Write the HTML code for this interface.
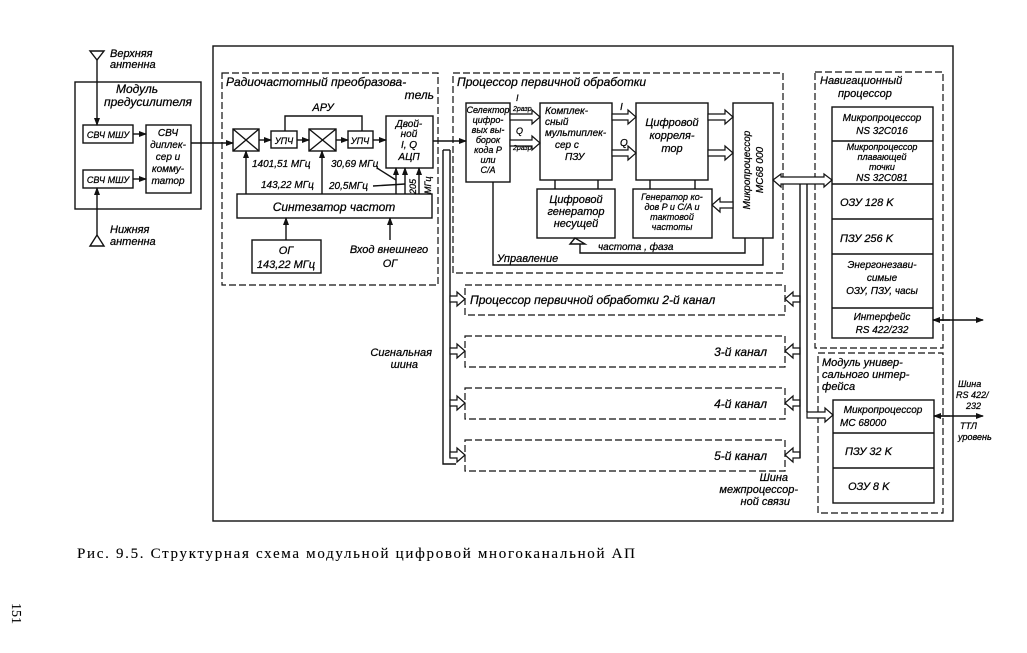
<!DOCTYPE html>
<html><head><meta charset="utf-8">
<style>
html,body{margin:0;padding:0;background:#fff;}
svg{display:block;}
text{font-family:"Liberation Sans","DejaVu Sans",sans-serif;font-style:italic;fill:#000;stroke:#000;stroke-width:0.25;}
.c{text-anchor:middle;}
</style></head><body>
<svg width="1027" height="653" viewBox="0 0 1027 653" xmlns="http://www.w3.org/2000/svg">
<defs>
<marker id="a" markerWidth="8" markerHeight="6" refX="7" refY="3" orient="auto" markerUnits="userSpaceOnUse"><path d="M0,0 L8,3 L0,6 z" fill="#111"/></marker>
</defs>
<g fill="none" stroke="#111" stroke-width="1.4">
<rect x="213" y="46" width="740" height="475"/>
<rect x="75" y="82" width="126" height="127"/>
<rect x="83" y="125" width="50" height="18"/>
<rect x="83" y="170" width="50" height="18"/>
<rect x="146" y="125" width="45" height="68"/>
<line x1="133" y1="134" x2="146" y2="134" marker-end="url(#a)"/>
<line x1="133" y1="179" x2="146" y2="179" marker-end="url(#a)"/>
<path d="M90,51 L104,51 L97,60 z"/>
<line x1="97" y1="60" x2="97" y2="125" marker-end="url(#a)"/>
<path d="M90,246 L104,246 L97,235 z"/>
<line x1="97" y1="235" x2="97" y2="188" marker-end="url(#a)"/>
<line x1="191" y1="143" x2="233" y2="143" marker-end="url(#a)"/>
</g>
<g stroke="#111" stroke-width="1.2" fill="none" stroke-dasharray="7,3">
<rect x="222" y="73" width="216" height="212"/>
<rect x="453" y="73" width="330" height="200"/>
<rect x="815" y="72" width="128" height="276"/>
<rect x="818" y="353" width="125" height="160"/>
<rect x="465" y="285" width="320" height="30"/>
<rect x="465" y="336" width="320" height="31"/>
<rect x="465" y="388" width="320" height="31"/>
<rect x="465" y="440" width="320" height="31"/>
</g>
<g fill="none" stroke="#111" stroke-width="1.4">
<rect x="233" y="129" width="26" height="22"/><path d="M233,129 L259,151 M259,129 L233,151"/>
<rect x="271" y="131" width="26" height="17"/>
<rect x="309" y="129" width="27" height="22"/><path d="M309,129 L336,151 M336,129 L309,151"/>
<rect x="348" y="131" width="25" height="17"/>
<rect x="386" y="116" width="47" height="52"/>
<line x1="259" y1="140" x2="271" y2="140" marker-end="url(#a)"/>
<line x1="297" y1="140" x2="309" y2="140" marker-end="url(#a)"/>
<line x1="336" y1="140" x2="348" y2="140" marker-end="url(#a)"/>
<line x1="373" y1="140" x2="386" y2="140" marker-end="url(#a)"/>
<path d="M285,131 L285,116 L362,116 L362,131"/>
<rect x="237" y="194" width="195" height="24"/>
<rect x="252" y="240" width="69" height="33"/>
<line x1="286" y1="240" x2="286" y2="218" marker-end="url(#a)"/>
<line x1="390" y1="240" x2="390" y2="218" marker-end="url(#a)"/>
<line x1="246" y1="194" x2="246" y2="151" marker-end="url(#a)"/>
<line x1="322" y1="194" x2="322" y2="151" marker-end="url(#a)"/>
<line x1="396" y1="194" x2="396" y2="168" marker-end="url(#a)"/>
<line x1="405" y1="194" x2="405" y2="168" marker-end="url(#a)"/>
<line x1="419" y1="194" x2="419" y2="168" marker-end="url(#a)"/>
<path d="M377,168 L396,180 M373,186 L405,184"/>
<line x1="433" y1="141" x2="466" y2="141" marker-end="url(#a)"/>
<path d="M443,150 L443,464 L456,464 M450,150 L450,457 L456,457"/>
<path d="M443,150 L450,150"/>
<rect x="466" y="103" width="44" height="79"/>
<rect x="540" y="103" width="72" height="77"/>
<rect x="636" y="103" width="72" height="77"/>
<rect x="733" y="103" width="40" height="135"/>
<rect x="537" y="189" width="78" height="49"/>
<rect x="633" y="189" width="79" height="49"/>
<path d="M555,180 L555,189 M598,180 L598,189 M650,180 L650,189 M695,180 L695,189"/>
<path d="M493,182 L493,265 L763,265 L763,238"/>
<path d="M745,238 L745,253 L580,253 L580,244 M575,238 L570,244 L585,244 z"/>
</g>
<g fill="#fff" stroke="#111" stroke-width="1.2">
<path d="M510,114 L532,114 L532,110 L540,117 L532,124 L532,120 L510,120 z"/>
<path d="M510,140 L532,140 L532,136 L540,143 L532,150 L532,146 L510,146 z"/>
<path d="M612,114 L628,114 L628,110 L636,117 L628,124 L628,120 L612,120 z"/>
<path d="M612,150 L628,150 L628,146 L636,153 L628,160 L628,156 L612,156 z"/>
<path d="M708,114 L725,114 L725,110 L733,117 L725,124 L725,120 L708,120 z"/>
<path d="M708,150 L725,150 L725,146 L733,153 L725,160 L725,156 L708,156 z"/>
<path d="M733,202 L720,202 L720,198 L712,205 L720,212 L720,208 L733,208 z"/>
<path d="M450,296 L457,296 L457,292 L465,299 L457,306 L457,302 L450,302 z"/>
<path d="M450,348 L457,348 L457,344 L465,351 L457,358 L457,354 L450,354 z"/>
<path d="M450,400 L457,400 L457,396 L465,403 L457,410 L457,406 L450,406 z"/>
<path d="M450,452 L457,452 L457,448 L465,455 L457,462 L457,458 L450,458 z"/>
<path d="M773,180 L781,174 L781,177 L824,177 L824,174 L832,180 L824,187 L824,184 L781,184 L781,187 z"/>
<path d="M800,296 L793,296 L793,292 L785,299 L793,306 L793,302 L800,302 z"/>
<path d="M800,348 L793,348 L793,344 L785,351 L793,358 L793,354 L800,354 z"/>
<path d="M800,400 L793,400 L793,396 L785,403 L793,410 L793,406 L800,406 z"/>
<path d="M800,452 L793,452 L793,448 L785,455 L793,462 L793,458 L800,458 z"/>
<path d="M807,412 L825,412 L825,408 L833,415 L825,422 L825,418 L807,418 z"/>
</g>
<g fill="none" stroke="#111" stroke-width="1.4">
<path d="M800,184 L800,458 M807,184 L807,412"/>
<rect x="832" y="107" width="101" height="231"/>
<path d="M832,141 L933,141 M832,184 L933,184 M832,219 L933,219 M832,254 L933,254 M832,308 L933,308"/>
<rect x="833" y="400" width="101" height="103"/>
<path d="M833,433 L934,433 M833,468 L934,468"/>
<line x1="933" y1="320" x2="983" y2="320" marker-end="url(#a)"/>
<line x1="950" y1="320" x2="933" y2="320" marker-end="url(#a)"/>
<line x1="934" y1="416" x2="983" y2="416" marker-end="url(#a)"/>
<line x1="950" y1="416" x2="934" y2="416" marker-end="url(#a)"/>
</g>
<g font-size="11">
<text x="110" y="57">Верхняя</text><text x="110" y="68">антенна</text>
<text x="110" y="233">Нижняя</text><text x="110" y="245">антенна</text>
<text x="116" y="93" font-size="12">Модуль</text><text x="104" y="106" font-size="12">предусилителя</text>
<text x="108" y="138" class="c" font-size="9">СВЧ МШУ</text>
<text x="108" y="183" class="c" font-size="9">СВЧ МШУ</text>
<text x="168" y="136" class="c" font-size="10">СВЧ</text>
<text x="168" y="148" class="c" font-size="10">диплек-</text>
<text x="168" y="160" class="c" font-size="10">сер и</text>
<text x="168" y="172" class="c" font-size="10">комму-</text>
<text x="168" y="184" class="c" font-size="10">татор</text>
<text x="226" y="86" font-size="12">Радиочастотный  преобразова-</text>
<text x="434" y="99" font-size="12" text-anchor="end">тель</text>
<text x="323" y="111" class="c">АРУ</text>
<text x="284" y="144" class="c" font-size="9">УПЧ</text>
<text x="360" y="144" class="c" font-size="9">УПЧ</text>
<text x="409" y="127" class="c" font-size="10">Двой-</text>
<text x="409" y="137" class="c" font-size="10">ной</text>
<text x="409" y="148" class="c" font-size="10">I, Q</text>
<text x="409" y="160" class="c" font-size="10">АЦП</text>
<text x="252" y="167" font-size="10">1401,51 МГц</text>
<text x="261" y="188" font-size="10">143,22 МГц</text>
<text x="331" y="167" font-size="10">30,69 МГц</text>
<text x="329" y="189" font-size="10">20,5МГц</text>
<text x="0" y="0" font-size="9" transform="translate(416,194) rotate(-90)">205</text>
<text x="0" y="0" font-size="9" transform="translate(431,194) rotate(-90)">МГц</text>
<text x="334" y="211" class="c" font-size="12">Синтезатор  частот</text>
<text x="286" y="254" class="c">ОГ</text>
<text x="286" y="268" class="c">143,22 МГц</text>
<text x="389" y="253" class="c">Вход внешнего</text>
<text x="390" y="267" class="c">ОГ</text>
<text x="457" y="86" font-size="12">Процессор  первичной  обработки</text>
<text x="488" y="113" class="c" font-size="9">Селектор</text>
<text x="488" y="123" class="c" font-size="9">цифро-</text>
<text x="488" y="133" class="c" font-size="9">вых вы-</text>
<text x="488" y="143" class="c" font-size="9">борок</text>
<text x="488" y="153" class="c" font-size="9">кода P</text>
<text x="488" y="163" class="c" font-size="9">или</text>
<text x="488" y="173" class="c" font-size="9">C/A</text>
<text x="516" y="101" font-size="9">I</text><text x="513" y="111" font-size="7">2разр</text>
<text x="516" y="134" font-size="9">Q</text><text x="513" y="150" font-size="7">2разр</text>
<text x="545" y="114" font-size="10">Комплек-</text>
<text x="545" y="125" font-size="10">сный</text>
<text x="545" y="136" font-size="10">мультиплек-</text>
<text x="555" y="148" font-size="10">сер  с</text>
<text x="565" y="160" font-size="10">ПЗУ</text>
<text x="620" y="110" font-size="10">I</text><text x="620" y="146" font-size="10">Q</text>
<text x="672" y="126" class="c" font-size="11">Цифровой</text>
<text x="672" y="139" class="c" font-size="11">корреля-</text>
<text x="672" y="152" class="c" font-size="11">тор</text>
<text x="0" y="0" class="c" font-size="10" transform="translate(750,170) rotate(-90)">Микропроцессор</text>
<text x="0" y="0" class="c" font-size="10" transform="translate(763,170) rotate(-90)">MC68 000</text>
<text x="576" y="203" class="c" font-size="11">Цифровой</text>
<text x="576" y="215" class="c" font-size="11">генератор</text>
<text x="576" y="227" class="c" font-size="11">несущей</text>
<text x="672" y="200" class="c" font-size="9">Генератор ко-</text>
<text x="672" y="210" class="c" font-size="9">дов P и C/A и</text>
<text x="672" y="220" class="c" font-size="9">тактовой</text>
<text x="672" y="230" class="c" font-size="9">частоты</text>
<text x="598" y="250" font-size="10">частота , фаза</text>
<text x="497" y="262" font-size="11">Управление</text>
<text x="470" y="304" font-size="12">Процессор  первичной  обработки  2-й  канал</text>
<text x="767" y="356" font-size="12" text-anchor="end">3-й  канал</text>
<text x="767" y="408" font-size="12" text-anchor="end">4-й  канал</text>
<text x="767" y="460" font-size="12" text-anchor="end">5-й  канал</text>
<text x="432" y="356" font-size="11" text-anchor="end">Сигнальная</text>
<text x="418" y="368" font-size="11" text-anchor="end">шина</text>
<text x="788" y="481" font-size="11" text-anchor="end">Шина</text>
<text x="798" y="493" font-size="11" text-anchor="end">межпроцессор-</text>
<text x="790" y="505" font-size="11" text-anchor="end">ной  связи</text>
<text x="820" y="84" font-size="11">Навигационный</text>
<text x="838" y="97" font-size="11">процессор</text>
<text x="882" y="121" class="c" font-size="10">Микропроцессор</text>
<text x="882" y="134" class="c" font-size="10">NS 32C016</text>
<text x="882" y="150" class="c" font-size="9">Микропроцессор</text>
<text x="882" y="160" class="c" font-size="9">плавающей</text>
<text x="882" y="170" class="c" font-size="9">точки</text>
<text x="882" y="181" class="c" font-size="10">NS 32C081</text>
<text x="840" y="206" font-size="11">ОЗУ    128 K</text>
<text x="840" y="242" font-size="11">ПЗУ    256 K</text>
<text x="882" y="268" class="c" font-size="10">Энергонезави-</text>
<text x="882" y="281" class="c" font-size="10">симые</text>
<text x="882" y="294" class="c" font-size="10">ОЗУ, ПЗУ, часы</text>
<text x="882" y="320" class="c" font-size="10">Интерфейс</text>
<text x="882" y="333" class="c" font-size="10">RS 422/232</text>
<text x="822" y="366" font-size="11">Модуль  универ-</text>
<text x="822" y="378" font-size="11">сального  интер-</text>
<text x="822" y="390" font-size="11">фейса</text>
<text x="883" y="413" class="c" font-size="10">Микропроцессор</text>
<text x="840" y="426" font-size="10">MC 68000</text>
<text x="845" y="455" font-size="11">ПЗУ  32 K</text>
<text x="848" y="490" font-size="11">ОЗУ  8 K</text>
<text x="958" y="387" font-size="9">Шина</text>
<text x="956" y="398" font-size="9">RS 422/</text>
<text x="966" y="409" font-size="9">232</text>
<text x="960" y="429" font-size="9">ТТЛ</text>
<text x="958" y="440" font-size="9">уровень</text>
</g>
<text x="77" y="558" textLength="558" lengthAdjust="spacing" style="font-family:'Liberation Serif',serif;font-style:normal;font-size:15px;stroke-width:0.1">Рис. 9.5. Структурная схема модульной цифровой многоканальной АП</text>
<text x="0" y="0" transform="translate(12,603) rotate(90)" style="font-family:'Liberation Serif',serif;font-style:normal;font-size:14px;stroke-width:0.1">151</text>
</svg>
</body></html>
